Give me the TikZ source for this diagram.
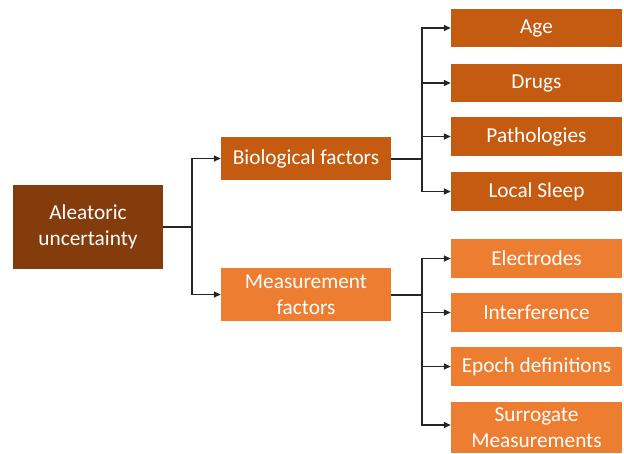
\documentclass[tikz,border=0pt]{standalone}
\usepackage{fontspec}
\setmainfont{Carlito}
\usetikzlibrary{arrows.meta}
\definecolor{cdark}{HTML}{843C0C}
\definecolor{cmid}{HTML}{C55A11}
\definecolor{clight}{HTML}{ED7D31}
\begin{document}
\begin{tikzpicture}[x=1pt,y=-1pt,
  box/.style={rectangle,inner sep=0pt,text=white,align=center,
    font=\fontsize{21.3}{26.5}\selectfont},
  root/.style={box,fill=cdark,minimum width=150pt,minimum height=84pt},
  mid/.style={box,minimum width=170pt},
  leaf/.style={box,minimum width=171pt,minimum height=38.5pt},
  conn/.style={draw=black!85,line width=1.4pt},
  arr/.style={conn,-{Triangle[length=7pt,width=6pt]}}]
\useasboundingbox (0,0) rectangle (624,453);
\node[root] (alea) at (88,227) {Aleatoric\\uncertainty};
\node[mid,fill=cmid,minimum height=43pt] (bio) at (306,158.5) {Biological factors};
\node[mid,fill=clight,minimum height=53pt] (meas) at (306,294.5) {Measurement\\factors};
\node[leaf,fill=cmid] (age) at (536.5,28) {Age};
\node[leaf,fill=cmid] (drugs) at (536.5,83) {Drugs};
\node[leaf,fill=cmid] (path) at (536.5,136.5) {Pathologies};
\node[leaf,fill=cmid] (sleep) at (536.5,191.5) {Local Sleep};
\node[leaf,fill=clight] (elec) at (536.5,258.5) {Electrodes};
\node[leaf,fill=clight] (inter) at (536.5,312.5) {Interference};
\node[leaf,fill=clight] (epoch) at (536.5,366.5) {Epoch definitions};
\node[leaf,fill=clight,minimum height=51pt] (surr) at (536.5,427.5) {Surrogate\\Measurements};
\coordinate (j1) at (192,227);
\coordinate (j2) at (422,158.5);
\coordinate (j3) at (422,294.5);
\draw[conn] (alea.east) -- (j1);
\draw[arr] (j1) |- (bio.west);
\draw[arr] (j1) |- (meas.west);
\draw[conn,line width=2pt] (bio.east) -- (j2);
\draw[conn,line width=2pt] (meas.east) -- (j3);
\foreach \n in {age,drugs,path,sleep}{\draw[arr] (j2) |- (\n.west);}
\foreach \n in {elec,inter,epoch}{\draw[arr] (j3) |- (\n.west);}
\draw[arr] (j3) |- ([yshift=2.5pt]surr.west);
\end{tikzpicture}
\end{document}
